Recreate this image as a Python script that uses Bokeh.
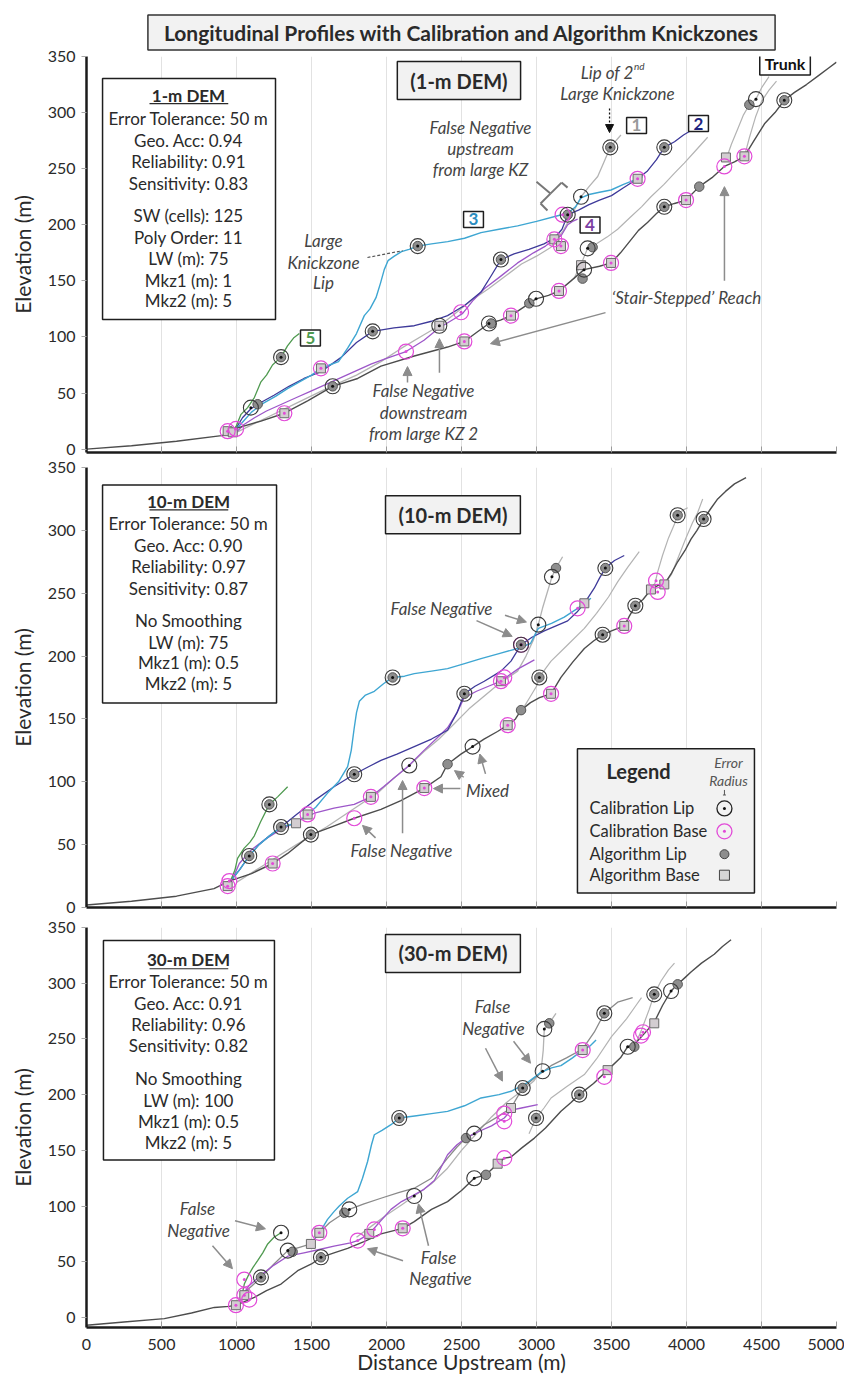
from bokeh.plotting import figure
from bokeh.models import (Range1d, Label, BoxAnnotation, Arrow, NormalHead, FixedTicker, Title,
                          CustomJSTickFormatter)
from bokeh.layouts import column
from bokeh.embed import file_html
from bokeh.resources import INLINE

FONT = "Lato"
X_TICKS = [0, 500, 1000, 1500, 2000, 2500, 3000, 3500, 4000, 4500, 5000]
Y_TICKS = [0, 50, 100, 150, 200, 250, 300, 350]

# ---------------- Panel 1 (1-m DEM) ----------------
P1_TRUNK_X = [0, 300, 600, 900, 960, 1008, 1163, 1319, 1474, 1641, 1808, 1963, 2185, 2407, 2519, 2600, 2683, 2760, 2830, 2920, 2997, 3080, 3150, 3230, 3317, 3420, 3497, 3560, 3620, 3680, 3740, 3800, 3852, 3920, 3997, 4085, 4170, 4252, 4320, 4386, 4450, 4520, 4590, 4652, 4720, 4800, 4880, 4950, 5000]
P1_TRUNK_Y = [0, 3, 7, 12, 14, 19, 25, 32, 43, 56, 63, 74, 83, 91, 96, 104, 112, 115, 119, 127, 134, 137, 141, 150, 160, 163, 166, 175, 185, 195, 202, 210, 216, 219, 222, 234, 242, 252, 256, 261, 275, 290, 300, 311, 318, 325, 333, 340, 345]
P1_L5_X = [970, 1000, 1030, 1074, 1119, 1163, 1200, 1240, 1297, 1340, 1380, 1419]
P1_L5_Y = [15, 21, 31, 37, 46, 60, 66, 75, 82, 92, 99, 103]
P1_L3_X = [980, 1040, 1100, 1180, 1260, 1340, 1420, 1500, 1563, 1620, 1680, 1741, 1800, 1852, 1890, 1930, 1960, 1985, 2010, 2052, 2100, 2150, 2208, 2300, 2408, 2520, 2630, 2750, 2874, 3000, 3141, 3208, 3260, 3297, 3350, 3420, 3497, 3580, 3674, 3708]
P1_L3_Y = [15, 24, 33, 41, 47, 54, 60, 66, 72, 75, 78, 90, 103, 119, 125, 135, 148, 160, 168, 172, 176, 178, 181, 183, 185, 188, 193, 196, 199, 203, 208, 210, 216, 224, 227, 229, 231, 236, 241, 243]
P1_L2_X = [980, 1040, 1096, 1141, 1250, 1350, 1450, 1563, 1700, 1800, 1908, 2050, 2185, 2300, 2407, 2520, 2630, 2700, 2763, 2850, 2950, 3050, 3119, 3170, 3208, 3280, 3350, 3420, 3500, 3580, 3674, 3740, 3800, 3852, 3920, 3980, 4030]
P1_L2_Y = [15, 28, 36, 40, 48, 56, 63, 69, 82, 95, 105, 108, 110, 114, 119, 128, 140, 155, 169, 174, 178, 183, 188, 196, 209, 213, 218, 222, 226, 233, 241, 248, 258, 269, 274, 280, 284]
P1_L4_X = [990, 1050, 1120, 1200, 1300, 1400, 1500, 1600, 1700, 1800, 1900, 2000, 2130, 2250, 2350, 2450, 2508, 2580, 2652, 2760, 2874, 2980, 3060, 3119, 3163, 3208, 3240, 3274]
P1_L4_Y = [14, 22, 28, 34, 40, 46, 52, 58, 64, 70, 76, 81, 87, 97, 108, 116, 121, 133, 143, 154, 166, 175, 181, 187, 190, 200, 203, 205]
P1_L1_X = [1000, 1200, 1400, 1600, 1800, 1963, 2100, 2250, 2352, 2450, 2560, 2680, 2800, 2900, 3000, 3097, 3180, 3240, 3297, 3350, 3408, 3450, 3492, 3530, 3563]
P1_L1_Y = [15, 28, 41, 54, 66, 78, 90, 102, 110, 120, 132, 143, 155, 165, 172, 180, 195, 210, 225, 234, 243, 256, 269, 275, 280]
P1_TA_X = [3250, 3300, 3341, 3400, 3470, 3541, 3620, 3700, 3763, 3850, 3920, 3985, 4060, 4141]
P1_TA_Y = [152, 166, 179, 183, 189, 196, 206, 216, 225, 236, 246, 255, 266, 278]
P1_TB_X = [4263, 4300, 4340, 4380, 4419, 4463, 4500, 4550]
P1_TB_Y = [258, 272, 285, 298, 307, 312, 322, 332]
P1_TC_X = [4386, 4420, 4460, 4500, 4550, 4600]
P1_TC_Y = [261, 278, 296, 310, 320, 328]
P1_CAL_LIP_X = [1096, 1297, 1641, 1908, 2208, 2352, 2683, 2763, 2997, 3208, 3297, 3317, 3341, 3492, 3852, 3852, 4463, 4652]
P1_CAL_LIP_Y = [37, 82, 56, 105, 181, 110, 112, 169, 134, 209, 225, 160, 179, 269, 269, 216, 312, 311]
P1_CAL_BASE_X = [941, 997, 1319, 1563, 2130, 2497, 2519, 2830, 3119, 3163, 3150, 3174, 3497, 3674, 3997, 4252, 4386]
P1_CAL_BASE_Y = [16, 18, 32, 72, 87, 122, 96, 119, 187, 181, 141, 209, 166, 241, 222, 252, 261]
P1_ALG_LIP_X = [1141, 1297, 1641, 1908, 2208, 2697, 2763, 2952, 3208, 3307, 3374, 3492, 3852, 3852, 4085, 4419, 4652]
P1_ALG_LIP_Y = [40, 82, 56, 105, 181, 112, 169, 130, 209, 152, 180, 269, 269, 216, 234, 307, 311]
P1_ALG_BASE_X = [941, 975, 1319, 1563, 2352, 2519, 2830, 3119, 3163, 3150, 3297, 3497, 3674, 3997, 4263, 4386]
P1_ALG_BASE_Y = [16, 15, 32, 72, 110, 96, 119, 187, 181, 141, 164, 166, 241, 222, 260, 261]
P1_STATS = ["1-m DEM", "Error Tolerance: 50 m", "Geo. Acc: 0.94", "Reliability: 0.91", "Sensitivity: 0.83",
            "SW (cells): 125", "Poly Order: 11", "LW (m): 75", "Mkz1 (m): 1", "Mkz2 (m): 5"]

# ---------------- Panel 2 (10-m DEM) ----------------
P2_TRUNK_X = [0, 300, 600, 850, 952, 1100, 1241, 1341, 1496, 1630, 1785, 1963, 2096, 2252, 2363, 2407, 2496, 2574, 2650, 2740, 2808, 2860, 2897, 2960, 3020, 3097, 3163, 3240, 3319, 3380, 3441, 3500, 3585, 3620, 3659, 3710, 3763, 3808, 3852, 3900, 3941, 3990, 4030, 4070, 4114, 4160, 4208, 4260, 4320, 4397]
P2_TRUNK_Y = [2, 5, 9, 15, 21, 27, 35, 43, 58, 64, 71, 78, 85, 95, 104, 114, 122, 128, 134, 140, 145, 150, 157, 163, 167, 170, 183, 195, 206, 212, 217, 220, 224, 232, 240, 245, 253, 256, 257, 266, 275, 284, 293, 300, 309, 317, 325, 331, 337, 342]
P2_L5_X = [960, 990, 1007, 1050, 1090, 1119, 1160, 1219, 1274, 1341]
P2_L5_Y = [21, 30, 39, 47, 52, 57, 68, 82, 88, 96]
P2_L3_X = [960, 1020, 1085, 1150, 1220, 1297, 1397, 1474, 1530, 1607, 1680, 1741, 1765, 1785, 1800, 1819, 1860, 1919, 1980, 2041, 2120, 2185, 2300, 2407, 2520, 2630, 2750, 2874, 2960, 3012, 3100, 3185, 3274, 3319, 3363]
P2_L3_Y = [21, 30, 41, 50, 57, 64, 67, 74, 80, 91, 100, 112, 125, 143, 155, 164, 169, 172, 178, 183, 184, 186, 188, 190, 194, 198, 202, 206, 210, 222, 226, 231, 238, 242, 246]
P2_L2_X = [960, 1020, 1085, 1150, 1220, 1297, 1400, 1519, 1650, 1785, 1880, 1963, 2070, 2185, 2300, 2407, 2470, 2519, 2590, 2652, 2763, 2830, 2897, 2970, 3052, 3130, 3208, 3270, 3319, 3385, 3420, 3459, 3520, 3585]
P2_L2_Y = [21, 30, 41, 50, 57, 64, 74, 85, 96, 106, 112, 117, 122, 128, 134, 141, 155, 170, 176, 180, 188, 196, 209, 215, 220, 224, 228, 235, 242, 254, 262, 270, 276, 280]
P2_L4_X = [960, 1019, 1100, 1200, 1297, 1400, 1519, 1650, 1785, 1896, 1980, 2060, 2141, 2250, 2330, 2407, 2470, 2519, 2600, 2680, 2763, 2797, 2880, 2986]
P2_L4_Y = [19, 35, 46, 55, 62, 68, 75, 79, 82, 88, 96, 104, 112, 125, 134, 143, 155, 167, 172, 176, 180, 183, 190, 197]
P2_L1_X = [1000, 1200, 1400, 1600, 1800, 1950, 2050, 2152, 2250, 2350, 2450, 2550, 2650, 2750, 2874, 2930, 2980, 3012, 3040, 3070, 3103, 3130, 3174]
P2_L1_Y = [20, 35, 50, 64, 80, 92, 103, 113, 124, 134, 146, 158, 168, 178, 188, 200, 213, 225, 238, 250, 263, 270, 279]
P2_TA_X = [2919, 2960, 3000, 3019, 3060, 3097, 3200, 3319, 3400, 3480, 3541, 3610, 3685]
P2_TA_Y = [160, 168, 176, 183, 190, 196, 208, 222, 234, 247, 259, 271, 283]
P2_TB_X = [3763, 3790, 3808, 3840, 3880, 3920, 3941, 3975, 4008]
P2_TB_Y = [253, 258, 267, 280, 294, 305, 312, 316, 318]
P2_TC_X = [3852, 3900, 3950, 4000, 4040, 4074, 4108]
P2_TC_Y = [257, 265, 280, 295, 306, 314, 325]
P2_CAL_LIP_X = [1085, 1219, 1297, 1496, 1785, 2041, 2152, 2519, 2574, 2897, 3012, 3019, 3103, 3441, 3459, 3659, 3941, 4114]
P2_CAL_LIP_Y = [41, 82, 64, 58, 106, 183, 113, 170, 128, 209, 225, 183, 263, 217, 270, 240, 312, 309]
P2_CAL_BASE_X = [941, 952, 1241, 1474, 1785, 1896, 2252, 2763, 2785, 2808, 2897, 3097, 3274, 3585, 3797, 3808]
P2_CAL_BASE_Y = [17, 21, 35, 74, 71, 88, 95, 180, 183, 145, 209, 170, 238, 224, 260, 251]
P2_ALG_LIP_X = [1085, 1219, 1297, 1496, 1785, 2041, 2407, 2519, 2897, 2897, 3019, 3130, 3441, 3459, 3659, 3941, 4114]
P2_ALG_LIP_Y = [41, 82, 64, 58, 106, 183, 114, 170, 209, 157, 183, 270, 217, 270, 240, 312, 309]
P2_ALG_BASE_X = [941, 1241, 1397, 1474, 1896, 2252, 2763, 2808, 3097, 3319, 3585, 3763, 3852]
P2_ALG_BASE_Y = [17, 35, 67, 74, 88, 95, 180, 145, 170, 242, 224, 253, 257]
P2_STATS = ["10-m DEM", "Error Tolerance: 50 m", "Geo. Acc: 0.90", "Reliability: 0.97", "Sensitivity: 0.87",
            "No Smoothing", "LW (m): 75", "Mkz1 (m): 0.5", "Mkz2 (m): 5"]

# ---------------- Panel 3 (30-m DEM) ----------------
P3_TRUNK_X = [0, 250, 519, 700, 852, 950, 996, 1050, 1119, 1200, 1297, 1408, 1500, 1563, 1650, 1741, 1850, 1963, 2108, 2185, 2300, 2407, 2500, 2585, 2663, 2741, 2785, 2830, 2900, 2986, 3060, 3163, 3230, 3285, 3380, 3474, 3560, 3608, 3652, 3720, 3785, 3840, 3897, 3941, 3990, 4030, 4100, 4185, 4240, 4297]
P3_TRUNK_Y = [-7, -4, -1, 4, 9, 10, 11, 14, 18, 24, 30, 42, 48, 54, 58, 62, 68, 75, 80, 86, 97, 104, 114, 125, 128, 138, 143, 144, 152, 161, 170, 185, 193, 200, 210, 222, 233, 243, 245, 255, 265, 280, 293, 299, 305, 310, 318, 326, 333, 339]
P3_L5_X = [1040, 1052, 1080, 1110, 1141, 1175, 1208, 1250, 1297]
P3_L5_Y = [22, 30, 38, 45, 51, 58, 66, 72, 76]
P3_L3_X = [1496, 1552, 1580, 1607, 1650, 1685, 1741, 1808, 1840, 1874, 1900, 1919, 1970, 2030, 2085, 2200, 2300, 2407, 2520, 2630, 2750, 2830, 2930, 3030, 3100, 3163, 3240, 3308, 3360, 3397]
P3_L3_Y = [66, 76, 82, 88, 95, 100, 107, 113, 125, 140, 155, 164, 168, 173, 179, 181, 183, 185, 190, 197, 200, 203, 210, 220, 224, 226, 233, 240, 244, 249]
P3_L2_X = [1030, 1100, 1163, 1250, 1342, 1420, 1496, 1552, 1620, 1719, 1752, 1850, 1963, 2080, 2185, 2300, 2407, 2470, 2530, 2585, 2652, 2740, 2830, 2908, 2986, 3097, 3200, 3308, 3385, 3452, 3541, 3641]
P3_L2_Y = [20, 28, 36, 48, 60, 63, 66, 76, 85, 94, 97, 102, 107, 112, 116, 125, 143, 153, 161, 165, 173, 180, 188, 206, 215, 226, 233, 241, 256, 273, 283, 287]
P3_L4_X = [1040, 1080, 1163, 1250, 1342, 1450, 1552, 1650, 1760, 1808, 1885, 1950, 2030, 2100, 2185, 2250, 2319, 2407, 2470, 2530, 2600, 2700, 2785, 2830, 2900, 3008]
P3_L4_Y = [20, 28, 38, 47, 55, 58, 61, 64, 67, 69, 75, 85, 97, 104, 110, 115, 123, 146, 155, 161, 166, 172, 179, 186, 188, 191]
P3_L1_X = [1800, 1900, 2000, 2100, 2185, 2300, 2407, 2500, 2600, 2700, 2800, 2919, 2980, 3030, 3045, 3052, 3085, 3130]
P3_L1_Y = [72, 82, 92, 101, 109, 120, 134, 150, 165, 180, 193, 205, 212, 221, 240, 259, 264, 273]
P3_TA_X = [2950, 2997, 3050, 3097, 3200, 3319, 3400, 3500, 3600, 3663, 3700]
P3_TA_Y = [165, 179, 188, 197, 207, 218, 232, 252, 268, 280, 287]
P3_TB_X = [3652, 3700, 3750, 3785, 3830, 3880, 3920]
P3_TB_Y = [243, 258, 276, 290, 302, 312, 318]
P3_CAL_LIP_X = [1163, 1297, 1342, 1563, 1752, 2085, 2185, 2585, 2585, 2908, 2997, 3041, 3052, 3285, 3452, 3608, 3785, 3897]
P3_CAL_LIP_Y = [36, 76, 60, 54, 97, 179, 109, 165, 125, 206, 179, 221, 259, 200, 273, 243, 290, 293]
P3_CAL_BASE_X = [996, 1052, 1052, 1085, 1552, 1808, 1919, 2108, 2785, 2785, 2785, 3308, 3452, 3697, 3710]
P3_CAL_BASE_Y = [11, 34, 20, 16, 76, 69, 79, 80, 183, 176, 143, 240, 216, 253, 256]
P3_ALG_LIP_X = [1163, 1374, 1563, 1719, 2085, 2530, 2663, 2908, 2997, 3085, 3285, 3452, 3652, 3785, 3941]
P3_ALG_LIP_Y = [36, 59, 54, 94, 179, 161, 128, 206, 179, 264, 200, 273, 243, 290, 299]
P3_ALG_BASE_X = [996, 1052, 1496, 1552, 1885, 2108, 2741, 2830, 3308, 3474, 3785]
P3_ALG_BASE_Y = [11, 20, 66, 76, 75, 80, 138, 188, 240, 222, 264]
P3_STATS = ["30-m DEM", "Error Tolerance: 50 m", "Geo. Acc: 0.91", "Reliability: 0.96", "Sensitivity: 0.82",
            "No Smoothing", "LW (m): 100", "Mkz1 (m): 0.5", "Mkz2 (m): 5"]

LEGEND_ITEMS = ["Calibration Lip", "Calibration Base", "Algorithm Lip", "Algorithm Base"]

C_TRUNK = "#4d4d4d"
C_L1 = "#b3b3b3"
C_L2 = "#3e3a9a"
C_L3 = "#3ea6d2"
C_L4 = "#9d57c9"
C_L5 = "#4f9a50"
C_GRAY2 = "#8a8a8a"
C_PINK = "#e24ad8"
C_ARROW = "#8c8c8c"
TXT = "#2a2a2a"
ANN = "#444444"


def make_fig(y0, top, fh, bottom, xlabels):
    p = figure(frame_width=750, frame_height=fh, min_border_left=86, min_border_right=8,
               min_border_top=top, min_border_bottom=bottom,
               x_range=Range1d(0, 5000), y_range=Range1d(y0, 350),
               output_backend="svg", toolbar_location=None, outline_line_color=None)
    p.xaxis.ticker = FixedTicker(ticks=X_TICKS)
    p.yaxis.ticker = FixedTicker(ticks=Y_TICKS)
    p.xgrid.ticker = FixedTicker(ticks=X_TICKS)
    p.xgrid.grid_line_color = "#e2e2e2"
    p.ygrid.grid_line_color = None
    for ax in (p.xaxis[0], p.yaxis[0]):
        ax.axis_line_width = 2.5
        ax.axis_line_color = "#1b1b1b"
        ax.minor_tick_line_color = None
        ax.major_label_text_font = FONT
        ax.major_label_text_font_size = "16px"
        ax.major_label_text_color = TXT
        ax.axis_label_text_font = FONT
        ax.axis_label_text_font_size = "21px"
        ax.axis_label_text_font_style = "normal"
        ax.axis_label_text_color = TXT
    p.yaxis.major_tick_out = 5
    p.yaxis.major_tick_in = 0
    p.yaxis.major_tick_line_color = "#a8a8a8"
    p.yaxis.axis_label = "Elevation (m)"
    p.yaxis.axis_label_standoff = 10
    p.yaxis.major_label_standoff = 6
    p.xaxis.major_tick_in = 6
    p.xaxis.major_tick_out = 0
    p.xaxis.major_tick_line_color = "#9a9a9a"
    if xlabels:
        p.xaxis.axis_label = "Distance Upstream (m)"
        p.xaxis.axis_label_text_font_size = "21px"
        p.xaxis.major_label_standoff = 11
        p.xaxis.axis_label_standoff = -4
    else:
        p.xaxis.formatter = CustomJSTickFormatter(code="return ''")
        p.xaxis.major_label_standoff = 0
    return p


def draw_lines(p, specs):
    for xs, ys, color, width in specs:
        p.line(xs, ys, line_color=color, line_width=width, line_join="round")


def draw_markers(p, cl, cb, al, ab):
    p.scatter(ab[0], ab[1], marker="square", size=9, fill_color="#d3cdd1", line_color="#6a6a6a", line_width=1)
    p.scatter(al[0], al[1], marker="circle", size=9.5, fill_color="#8e8e8e", line_color="#555555", line_width=1)
    p.circle(cb[0], cb[1], radius=50, fill_color=None, line_color=C_PINK, line_width=1.2)
    p.scatter(cb[0], cb[1], marker="circle", size=3, fill_color=C_PINK, line_color=None)
    p.circle(cl[0], cl[1], radius=50, fill_color=None, line_color="#3a3a3a", line_width=1.1)
    p.scatter(cl[0], cl[1], marker="circle", size=3, fill_color="#111111", line_color=None)


def lab(p, x, y, text, size=17, style="normal", color=TXT, align="center", baseline="middle", **kw):
    p.add_layout(Label(x=x, y=y, text=text, text_font=FONT, text_font_size=f"{size}px",
                       text_font_style=style, text_color=color, text_align=align,
                       text_baseline=baseline, **kw))


def boxed(p, x, y, text, color, size=17, style="bold", pad=(5, 2), bg="white"):
    lab(p, x, y, text, size=size, style=style, color=color,
        background_fill_color=bg, border_line_color="#1e1e1e", border_line_width=1.5, padding=pad)


def arr(p, x0, y0, x1, y1, color=C_ARROW, head=True, dash="solid", width=1.5, hsize=9):
    end = NormalHead(size=hsize, fill_color=color, line_color=color) if head else None
    p.add_layout(Arrow(x_start=x0, y_start=y0, x_end=x1, y_end=y1, end=end,
                       line_color=color, line_width=width, line_dash=dash))


def stats_box(p, left, right, top, bottom, ys, texts, ul_y):
    p.add_layout(BoxAnnotation(left=left, right=right, top=top, bottom=bottom, fill_color="white",
                               fill_alpha=1, line_color="#1e1e1e", line_alpha=1, line_width=1.5))
    cx = 680
    lab(p, cx, ys[0], texts[0], size=17, style="bold")
    for yy, t in zip(ys[1:], texts[1:]):
        lab(p, cx, yy, t, size=17)
    arr(p, 420, ul_y, 945, ul_y, color=TXT, head=False, width=1.2)


def dem_label(p, x, y, text):
    lab(p, x, y, text, size=20, style="bold", background_fill_color="#f2f2f2",
        border_line_color="#1e1e1e", border_line_width=1.5, padding=(13, 7))


# ======== Panel 1 ========
p1 = make_fig(-3, 56, 396, 6, False)
p1.title = Title(text="Longitudinal Profiles with Calibration and Algorithm Knickzones", align="center",
                 vertical_align="middle",
                 text_font=FONT, text_font_size="21px", text_font_style="bold", text_color=TXT,
                 background_fill_color="#f2f2f2", border_line_color="#333333", border_line_width=1.5,
                 padding=(16, 5), standoff=11)
draw_lines(p1, [(P1_TA_X, P1_TA_Y, C_L1, 1.2), (P1_TB_X, P1_TB_Y, C_L1, 1.2), (P1_TC_X, P1_TC_Y, C_L1, 1.2),
                (P1_L1_X, P1_L1_Y, C_L1, 1.3), (P1_L4_X, P1_L4_Y, C_L4, 1.3), (P1_L2_X, P1_L2_Y, C_L2, 1.3),
                (P1_L3_X, P1_L3_Y, C_L3, 1.4), (P1_L5_X, P1_L5_Y, C_L5, 1.3), (P1_TRUNK_X, P1_TRUNK_Y, C_TRUNK, 1.4)])
draw_markers(p1, (P1_CAL_LIP_X, P1_CAL_LIP_Y), (P1_CAL_BASE_X, P1_CAL_BASE_Y),
             (P1_ALG_LIP_X, P1_ALG_LIP_Y), (P1_ALG_BASE_X, P1_ALG_BASE_Y))
stats_box(p1, 107, 1260, 330.4, 115.5,
          [315.2, 294.6, 275.0, 256.3, 236.7, 208.1, 188.5, 169.8, 150.2, 132.4], P1_STATS, 308.0)
dem_label(p1, 2483, 328.6, "(1-m DEM)")
for yy, t in zip([186.0, 166.3, 148.5], ["Large", "Knickzone", "Lip"]):
    lab(p1, 1580, yy, t, style="italic", color=ANN)
arr(p1, 1873, 170.8, 2107, 176.9, color="#555555", head=False, dash="3 2", width=1.2)
boxed(p1, 1493, 99, "5", C_L5)
boxed(p1, 2580, 204.7, "3", "#2b8cc0")
boxed(p1, 3357, 199.8, "4", "#7c3fa3")
boxed(p1, 3667, 288.5, "1", "#9a9a9a")
boxed(p1, 4080, 290.2, "2", "#1d2380")
boxed(p1, 4657, 343.7, "Trunk", "#111111", size=16)
lab(p1, 3647, 335.7, "Lip of 2", style="italic", color=ANN, align="right")
lab(p1, 3650, 341.5, "nd", size=10, style="italic", color=ANN, align="left")
lab(p1, 3540, 317, "Large Knickzone", style="italic", color=ANN)
arr(p1, 3487, 303.6, 3487, 282.2, color="#111111", dash="2 2", width=1.3, hsize=8)
for yy, t in zip([286.7, 268.0, 249.2], ["False Negative", "upstream", "from large KZ"]):
    lab(p1, 2627, yy, t, style="italic", color=ANN)
arr(p1, 3000, 238.4, 3093, 227.8, color="#777777", head=False, width=2)
arr(p1, 3093, 227.8, 3167, 237.6, color="#777777", head=False, width=2)
arr(p1, 3167, 237.6, 3207, 233.1, color="#777777", head=False, width=2)
arr(p1, 3093, 227.8, 3027, 218.9, color="#777777", head=False, width=2)
arr(p1, 3027, 218.9, 3073, 212.7, color="#777777", head=False, width=2)
for yy, t in zip([52.2, 32.6, 13.9], ["False Negative", "downstream", "from large KZ 2"]):
    lab(p1, 2247, yy, t, style="italic", color=ANN)
arr(p1, 2353, 68.1, 2353, 98.5)
arr(p1, 2140, 59.4, 2140, 73.6)
lab(p1, 4000, 135.1, "\u2018Stair-Stepped\u2019 Reach", style="italic", color=ANN)
arr(p1, 3460, 121.7, 2693, 94.0)
arr(p1, 4253, 150.2, 4253, 234.0)

# ======== Panel 2 ========
p2 = make_fig(0, 9, 440, 10, False)
draw_lines(p2, [(P2_TA_X, P2_TA_Y, C_L1, 1.2), (P2_TB_X, P2_TB_Y, C_L1, 1.2), (P2_TC_X, P2_TC_Y, C_L1, 1.2),
                (P2_L1_X, P2_L1_Y, C_L1, 1.3), (P2_L4_X, P2_L4_Y, C_L4, 1.3), (P2_L2_X, P2_L2_Y, C_L2, 1.3),
                (P2_L3_X, P2_L3_Y, C_L3, 1.4), (P2_L5_X, P2_L5_Y, C_L5, 1.3), (P2_TRUNK_X, P2_TRUNK_Y, C_TRUNK, 1.4)])
draw_markers(p2, (P2_CAL_LIP_X, P2_CAL_LIP_Y), (P2_CAL_BASE_X, P2_CAL_BASE_Y),
             (P2_ALG_LIP_X, P2_ALG_LIP_Y), (P2_ALG_BASE_X, P2_ALG_BASE_Y))
stats_box(p2, 107, 1267, 336.1, 162.7,
          [322.7, 305.2, 287.8, 271.2, 253.8, 228.5, 211.1, 194.5, 177.9], P2_STATS, 316.3)
dem_label(p2, 2443, 312.4, "(10-m DEM)")
lab(p2, 2367, 237.9, "False Negative", style="italic", color=ANN)
arr(p2, 2790, 232.4, 2933, 227.1)
arr(p2, 2600, 228.2, 2838, 215.7)
lab(p2, 2673, 93.0, "Mixed", style="italic", color=ANN)
arr(p2, 2493, 94.6, 2313, 94.6)
arr(p2, 2515, 103.6, 2453, 108.9)
arr(p2, 2660, 106.3, 2622, 122.1)
lab(p2, 2100, 45.5, "False Negative", style="italic", color=ANN)
arr(p2, 1927, 55.4, 1840, 65.3)
arr(p2, 2107, 59.0, 2107, 101.0)
# legend
p2.add_layout(BoxAnnotation(left=3273, right=4453, top=126.3, bottom=11.5, fill_color="#f2f2f2",
                            fill_alpha=1, line_color="#1e1e1e", line_alpha=1, line_width=1.5))
lab(p2, 3680, 108.9, "Legend", size=20, style="bold")
lab(p2, 4280, 115.2, "Error", size=14, style="italic", color="#555555")
lab(p2, 4280, 101.0, "Radius", size=14, style="italic", color="#555555")
arr(p2, 4243, 89.5, 4263, 89.5, color="#555555", head=False, width=1)
arr(p2, 4253, 89.5, 4253, 93.5, color="#555555", head=False, width=1)
for yy, t in zip([78.8, 60.6, 42.4, 25.7], LEGEND_ITEMS):
    lab(p2, 3353, yy, t, size=16.5, align="left")
p2.circle([4253], [78.8], radius=50, fill_color=None, line_color="#222222", line_width=1.3, level="overlay")
p2.scatter([4253], [78.8], marker="circle", size=3, fill_color="#111111", line_color=None, level="overlay")
p2.circle([4253], [60.6], radius=50, fill_color=None, line_color=C_PINK, line_width=1.3, level="overlay")
p2.scatter([4253], [60.6], marker="circle", size=3, fill_color=C_PINK, line_color=None, level="overlay")
p2.scatter([4253], [42.4], marker="circle", size=9, fill_color="#8e8e8e", line_color="#444444", level="overlay")
p2.scatter([4253], [25.7], marker="square", size=10, fill_color="#d6d6d6", line_color="#444444", level="overlay")

# ======== Panel 3 ========
p3 = make_fig(-9, 10, 400, 50, True)
draw_lines(p3, [(P3_TA_X, P3_TA_Y, C_L1, 1.2), (P3_TB_X, P3_TB_Y, C_L1, 1.2),
                (P3_L1_X, P3_L1_Y, C_L1, 1.3), (P3_L2_X, P3_L2_Y, C_GRAY2, 1.3), (P3_L4_X, P3_L4_Y, C_L4, 1.3),
                (P3_L3_X, P3_L3_Y, C_L3, 1.4), (P3_L5_X, P3_L5_Y, C_L5, 1.3), (P3_TRUNK_X, P3_TRUNK_Y, C_TRUNK, 1.4)])
draw_markers(p3, (P3_CAL_LIP_X, P3_CAL_LIP_Y), (P3_CAL_BASE_X, P3_CAL_BASE_Y),
             (P3_ALG_LIP_X, P3_ALG_LIP_Y), (P3_ALG_BASE_X, P3_ALG_BASE_Y))
stats_box(p3, 113, 1253, 338.3, 141.4,
          [321.3, 301.6, 281.9, 263.1, 244.3, 214.8, 195.1, 176.3, 156.6], P3_STATS, 313.0)
dem_label(p3, 2443, 326.7, "(30-m DEM)")
lab(p3, 740, 97.5, "False", style="italic", color=ANN)
lab(p3, 747, 77.8, "Negative", style="italic", color=ANN)
arr(p3, 990, 86.8, 1193, 79.6)
arr(p3, 840, 64.4, 973, 43.8)
lab(p3, 2347, 53.6, "False", style="italic", color=ANN)
lab(p3, 2360, 34.8, "Negative", style="italic", color=ANN)
arr(p3, 2110, 50.9, 1873, 61.7)
arr(p3, 2280, 64.4, 2213, 102.0)
lab(p3, 2707, 279.2, "False", style="italic", color=ANN)
lab(p3, 2713, 259.5, "Negative", style="italic", color=ANN)
arr(p3, 2660, 241.6, 2773, 212.1)
arr(p3, 2847, 247.9, 2960, 228.2)

layout = column(p1, p2, p3, spacing=0)
open("out.html", "w").write(file_html(layout, INLINE))
